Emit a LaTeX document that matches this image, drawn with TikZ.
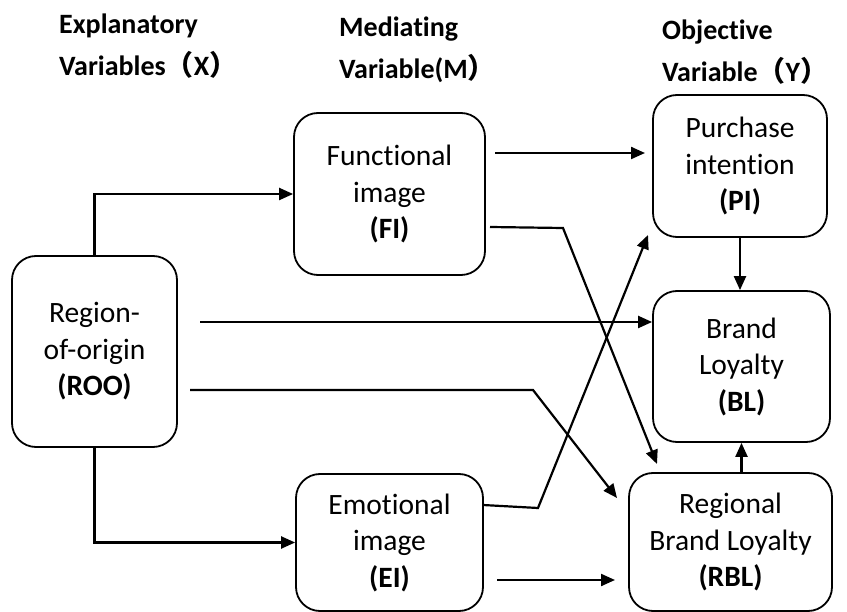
\documentclass[tikz,border=0pt]{standalone}
\usepackage{fontspec}
\setmainfont[Ligatures=NoCommon]{Carlito}
\newfontfamily\cjk{Noto Sans CJK SC}
\usetikzlibrary{arrows.meta,calc}
\begin{document}
\begin{tikzpicture}[x=1pt,y=-1pt,
  box/.style={draw,line width=1.8pt,rounded corners=24pt,align=center,inner sep=0pt,
    font=\fontsize{29.5}{36.5}\selectfont},
  hdr/.style={anchor=west,align=left,inner sep=0pt,font=\fontsize{28}{42}\selectfont\bfseries},
  arr/.style={line width=2.2pt,-{Triangle[length=14pt,width=12pt]}}]
\useasboundingbox (0,0) rectangle (847,612);
% headers
\node[hdr] (hx) at (59,46) {Explanatory\\Variables{\cjk （}X{\cjk ）}};
\node[hdr] (hm) at (339,50) {Mediating\\Variable(M{\cjk ）}};
\node[hdr] (hy) at (662,52) {Objective\\Variable{\cjk （}Y{\cjk ）}};
% boxes
\node[box,minimum width=165pt,minimum height=191pt] (roo) at (94.5,351.5) {Region-\\of-origin\\\textbf{(ROO)}};
\node[box,minimum width=191pt,minimum height=162pt] (fi) at (389.5,194) {Functional\\image\\\textbf{(FI)}};
\node[box,minimum width=187pt,minimum height=137pt] (ei) at (389.5,542.5) {Emotional\\image\\\textbf{(EI)}};
\node[box,minimum width=174pt,minimum height=142pt] (pi) at (740,166) {Purchase\\intention\\\textbf{(PI)}};
\node[box,minimum width=177pt,minimum height=151pt] (bl) at (741.5,366.5) {Brand\\Loyalty\\\textbf{(BL)}};
\node[box,minimum width=203pt,minimum height=138pt] (rbl) at (730.5,542) {Regional\\Brand Loyalty\\\textbf{(RBL)}};
% free-end coordinates
\coordinate (a1) at (200,322);
\coordinate (a2) at (190,390);
\coordinate (a2b) at (533,390);
\coordinate (a2e) at (617,498);
\coordinate (f1) at (495,153);
\coordinate (f1e) at (645,153);
\coordinate (f2) at (490,227);
\coordinate (f2b) at (563,228);
\coordinate (f2e) at (657,464);
\coordinate (e1) at (483,505);
\coordinate (e1b) at (538,508);
\coordinate (e1e) at (648,235);
\coordinate (e2) at (497,580);
\coordinate (e2e) at (615,580);
% connectors
\draw[arr] (roo.north) |- (fi.west);
\draw[arr] (roo.south) |- (ei.west);
\draw[arr] (a1) -- (a1 -| bl.west);
\draw[arr] (a2) -- (a2b) -- (a2e);
\draw[arr] (f1) -- (f1e);
\draw[arr] (f2) -- (f2b) -- (f2e);
\draw[arr] (e1) -- (e1b) -- (e1e);
\draw[arr] (e2) -- (e2e);
\draw[arr] (pi.south) -- (pi.south |- bl.north);
\draw[arr] (bl.south |- rbl.north) -- (bl.south);
\end{tikzpicture}
\end{document}
